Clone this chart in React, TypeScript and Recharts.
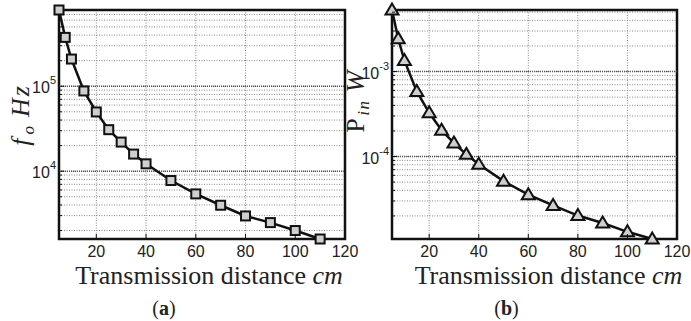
import { LineChart, Line, XAxis, YAxis, CartesianGrid, ReferenceArea, ReferenceLine, Label } from 'recharts';

const distance = [5, 7.5, 10, 15, 20, 25, 30, 35, 40, 50, 60, 70, 80, 90, 100, 110];
const freq = [790000, 376000, 209000, 88000, 49800, 30800, 22000, 15900, 12200, 7760, 5400, 3970, 2970, 2480, 2000, 1590];
const power = [5.3e-3, 2.44e-3, 1.35e-3, 5.83e-4, 3.27e-4, 2.04e-4, 1.44e-4, 1.06e-4, 8.1e-5, 5.13e-5, 3.56e-5, 2.66e-5, 2.02e-5, 1.65e-5, 1.3e-5, 1.07e-5];

const xTicks = [20, 40, 60, 80, 100, 120];
const freqTicks = [2e3, 3e3, 4e3, 5e3, 6e3, 7e3, 8e3, 9e3, 1e4, 2e4, 3e4, 4e4, 5e4, 6e4, 7e4, 8e4, 9e4, 1e5, 2e5, 3e5, 4e5, 5e5, 6e5, 7e5];
const freqMajor = [1e4, 1e5];
const powerTicks = [2e-5, 3e-5, 4e-5, 5e-5, 6e-5, 7e-5, 8e-5, 9e-5, 1e-4, 2e-4, 3e-4, 4e-4, 5e-4, 6e-4, 7e-4, 8e-4, 9e-4, 1e-3, 2e-3, 3e-3, 4e-3, 5e-3];
const powerMajor = [1e-4, 1e-3];

const freqData = distance.map((d, i) => ({ d, v: freq[i] }));
const powerData = distance.map((d, i) => ({ d, v: power[i] }));

const SANS = "'Liberation Sans', Arial, sans-serif";
const SERIF = "'Liberation Serif', 'Times New Roman', serif";

function isDecade(v: number) {
  const l = Math.log10(v);
  return Math.abs(l - Math.round(l)) < 1e-6;
}

function YTick({ x, y, payload }: any) {
  const v = payload.value;
  const major = isDecade(v);
  const exp = Math.round(Math.log10(v));
  return (
    <g>
      <line x1={x + 2} x2={x + 2 + (major ? 5 : 3)} y1={y} y2={y} stroke="#111" strokeWidth={1} />
      {major && (
        <text x={x - 1} y={y + 7} textAnchor="end" fontFamily={SANS} fontSize={16} fill="#222">
          <tspan>10</tspan>
          <tspan dy={-9} fontSize={11}>{exp < 0 ? '-' + Math.abs(exp) : exp}</tspan>
        </text>
      )}
    </g>
  );
}

function XTick({ x, y, payload }: any) {
  return (
    <g>
      <line x1={x} x2={x} y1={y} y2={y - 5} stroke="#111" strokeWidth={1} />
      <text x={x} y={y + 18} textAnchor="middle" fontFamily={SANS} fontSize={16} fill="#222">
        {payload.value}
      </text>
    </g>
  );
}

function Square({ cx, cy }: any) {
  if (cx == null || cy == null) return null;
  return <rect x={cx - 4.5} y={cy - 4.5} width={9} height={9} fill="#cfcfcf" stroke="#111" strokeWidth={2} />;
}

function Triangle({ cx, cy }: any) {
  if (cx == null || cy == null) return null;
  return <path d={`M${cx},${cy - 6.5} L${cx + 6.5},${cy + 4.5} L${cx - 6.5},${cy + 4.5} Z`} fill="#cfcfcf" stroke="#111" strokeWidth={2} strokeLinejoin="miter" />;
}

function makeXTitle(tag: string, shift: number, tagShift: number) {
  return ({ viewBox }: any) => {
    const cx = viewBox.x + viewBox.width / 2;
    return (
      <g>
        <text x={cx + shift} y={viewBox.y + 45} textAnchor="middle" fontFamily={SERIF} fontSize={26} fill="#222">
          Transmission distance <tspan fontStyle="italic">cm</tspan>
        </text>
        <text x={cx + tagShift} y={viewBox.y + 76} textAnchor="middle" fontFamily={SERIF} fontSize={20} fill="#222">
          (<tspan fontWeight="bold">{tag}</tspan>)
        </text>
      </g>
    );
  };
}

const FreqTitle = ({ viewBox }: any) => {
  const x = viewBox.x + 29;
  const y = viewBox.y + 105;
  return (
    <text
      x={x}
      y={y}
      transform={`rotate(-90, ${x}, ${y})`}
      textAnchor="middle"
      fontFamily={SERIF}
      fontSize={26}
      fontStyle="italic"
      letterSpacing={2}
      fill="#222"
    >
      f<tspan dx={2} dy={5} fontSize={17}>o</tspan>
      <tspan dx={7} dy={-5}>Hz</tspan>
    </text>
  );
};

const PowerTitle = ({ viewBox }: any) => {
  const x = viewBox.x + 24;
  const y = viewBox.y + 91;
  return (
    <text
      x={x}
      y={y}
      transform={`rotate(-90, ${x}, ${y})`}
      textAnchor="middle"
      fontFamily={SERIF}
      fontSize={26}
      letterSpacing={1.5}
      fill="#222"
    >
      P<tspan dx={1} dy={5} fontSize={17} fontStyle="italic">in</tspan>
      <tspan dx={7} dy={-5} fontStyle="italic">W</tspan>
    </text>
  );
};

const FreqXTitle = makeXTitle('a', 7, -38);
const PowerXTitle = makeXTitle('b', 14, -28);

interface PanelProps {
  data: { d: number; v: number }[];
  ticks: number[];
  major: number[];
  width: number;
  yWidth: number;
  right: number;
  yTitle: any;
  xTitle: any;
  dot: any;
}

function Panel({ data, ticks, major, width, yWidth, right, yTitle, xTitle, dot }: PanelProps) {
  const vals = data.map((p) => p.v);
  const lo = Math.min(...vals);
  const hi = Math.max(...vals);
  return (
    <LineChart width={width} height={321} data={data} margin={{ top: 10, right, left: 0, bottom: 0 }}>
      <CartesianGrid stroke="#8a8a8a" strokeDasharray="1 1.5" />
      {major.map((m) => (
        <ReferenceLine key={m} y={m} stroke="#555" strokeWidth={1.5} strokeDasharray="1 1" />
      ))}
      <XAxis
        dataKey="d"
        type="number"
        domain={[5, 120]}
        ticks={xTicks}
        height={82}
        axisLine={false}
        tickLine={false}
        tickSize={0}
        tickMargin={0}
        tick={<XTick />}
        interval={0}
      >
        <Label content={xTitle} />
      </XAxis>
      <YAxis
        dataKey="v"
        type="number"
        scale="log"
        domain={[lo, hi]}
        ticks={ticks}
        width={yWidth}
        axisLine={false}
        tickLine={false}
        tickSize={0}
        tickMargin={2}
        tick={<YTick />}
        interval={0}
      >
        <Label content={yTitle} />
      </YAxis>
      <ReferenceArea x1={5} x2={120} y1={lo} y2={hi} fill="none" stroke="#111" strokeWidth={2.5} />
      <Line
        type="linear"
        dataKey="v"
        stroke="#111"
        strokeWidth={2.5}
        dot={dot}
        activeDot={false}
        isAnimationActive={false}
      />
    </LineChart>
  );
}

export default function App() {
  return (
    <div style={{ position: 'absolute', left: 0, top: 0, width: 691, height: 321, background: '#fff' }}>
      <div style={{ position: 'absolute', left: 0, top: 0 }}>
        <Panel
          data={freqData}
          ticks={freqTicks}
          major={freqMajor}
          width={360}
          yWidth={59}
          right={15}
          yTitle={FreqTitle}
          xTitle={FreqXTitle}
          dot={<Square />}
        />
      </div>
      <div style={{ position: 'absolute', left: 340, top: 0 }}>
        <Panel
          data={powerData}
          ticks={powerTicks}
          major={powerMajor}
          width={351}
          yWidth={52}
          right={14}
          yTitle={PowerTitle}
          xTitle={PowerXTitle}
          dot={<Triangle />}
        />
      </div>
    </div>
  );
}
